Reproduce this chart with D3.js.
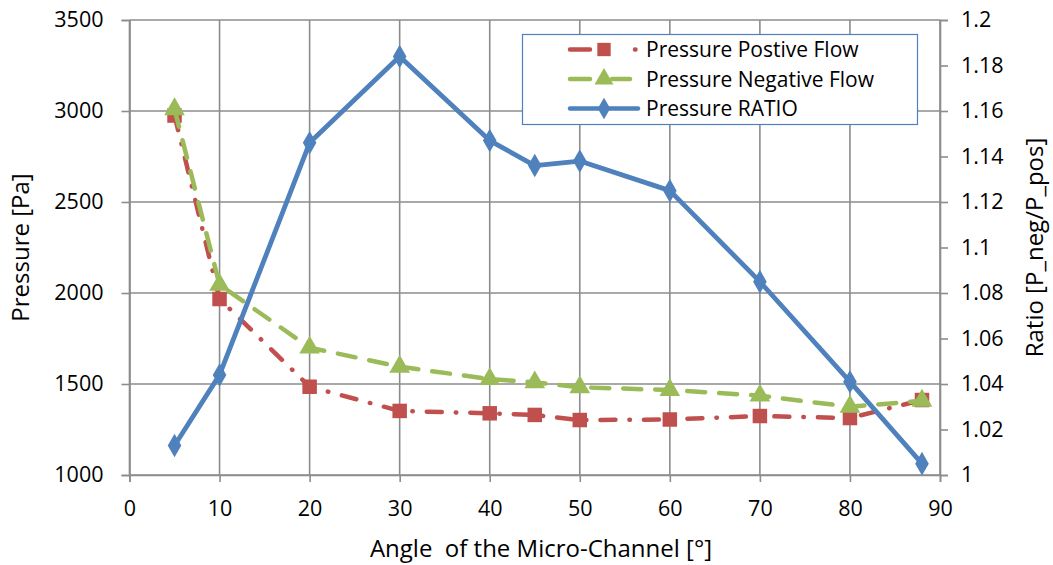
<!DOCTYPE html>
<html><head><meta charset="utf-8">
<script src="https://cdn.jsdelivr.net/npm/d3@7"></script>
<style>
html,body{margin:0;padding:0;background:#fff;}
svg text{font-family:"Open Sans","Noto Sans",sans-serif;fill:#000;}
</style></head>
<body><svg id="c" width="1053" height="565"></svg>
<script>
const angles = [5, 10, 20, 30, 40, 45, 50, 60, 70, 80, 88];
const pressurePositive = [2975, 1967, 1485, 1352, 1339, 1330, 1302, 1305, 1324, 1313, 1412];
const pressureNegative = [3010, 2045, 1700, 1595, 1527, 1509, 1482, 1467, 1436, 1375, 1408];
const pressureRatio = [1.013, 1.044, 1.146, 1.184, 1.147, 1.136, 1.138, 1.125, 1.085, 1.041, 1.005];
const xTicks = [0, 10, 20, 30, 40, 50, 60, 70, 80, 90];
const leftTicks = [1000, 1500, 2000, 2500, 3000, 3500];
const rightTicks = [1, 1.02, 1.04, 1.06, 1.08, 1.1, 1.12, 1.14, 1.16, 1.18, 1.2];
const seriesNames = ["Pressure Postive Flow", "Pressure Negative Flow", "Pressure RATIO"];

const svg = d3.select("#c");
const L = 129.5, R = 940, T = 20, B = 475;
const x = d3.scaleLinear().domain([0, 90]).range([L, R]);
const yL = d3.scaleLinear().domain([1000, 3500]).range([B, T]);
const yR = d3.scaleLinear().domain([1, 1.2]).range([B, T]);
const gridCol = "#8c8c8c";
const FS = 21.5, TFS = 24, LFS = 21;

// grid
const g = svg.append("g");
g.selectAll(".vg").data(xTicks).join("line")
  .attr("x1", d => x(d)).attr("x2", d => x(d)).attr("y1", T).attr("y2", B)
  .attr("stroke", gridCol).attr("stroke-width", 1.6);
g.selectAll(".hg").data(leftTicks).join("line")
  .attr("x1", L).attr("x2", R).attr("y1", d => yL(d)).attr("y2", d => yL(d))
  .attr("stroke", gridCol).attr("stroke-width", 1.6);

// axes
function styleAxis(sel) {
  sel.attr("font-family", null).attr("font-size", null);
  sel.select(".domain").attr("stroke", gridCol).attr("stroke-width", 1.6);
  sel.selectAll(".tick line").attr("stroke", gridCol).attr("stroke-width", 1.6);
  sel.selectAll(".tick text").attr("font-size", FS);
}
const ax = svg.append("g").attr("transform", `translate(0,${B})`)
  .call(d3.axisBottom(x).tickValues(xTicks).tickSize(7).tickPadding(19).tickFormat(d3.format("d")));
styleAxis(ax);
const al = svg.append("g").attr("transform", `translate(${L},0)`)
  .call(d3.axisLeft(yL).tickValues(leftTicks).tickSize(8).tickPadding(18).tickFormat(d3.format("d")));
styleAxis(al);
const ar = svg.append("g").attr("transform", `translate(${R},0)`)
  .call(d3.axisRight(yR).tickValues(rightTicks).tickSize(8).tickPadding(13).tickFormat(d => d3.format("")(+d.toFixed(2))));
styleAxis(ar);

// titles
svg.append("text").attr("x", 541).attr("y", 557).attr("text-anchor", "middle")
  .attr("font-size", TFS).style("white-space", "pre").text("Angle  of the Micro-Channel [°]");
svg.append("text").attr("transform", `translate(29,${(T + B) / 2}) rotate(-90)`).attr("text-anchor", "middle")
  .attr("font-size", TFS).text("Pressure [Pa]");
svg.append("text").attr("transform", `translate(1043,${(T + B) / 2}) rotate(-90)`).attr("text-anchor", "middle")
  .attr("font-size", TFS).text("Ratio [P_neg/P_pos]");

const colors = ["#C0504D", "#9BBB59", "#4F81BD"];
const dashes = ["15,14,0.5,14", "18,14", null];
const legendDashes = ["20,45,0.5,100", "20,22,18,100", null];

const data = [
  angles.map((a, i) => [a, pressurePositive[i]]),
  angles.map((a, i) => [a, pressureNegative[i]]),
  angles.map((a, i) => [a, pressureRatio[i]])
];
const scales = [yL, yL, yR];
const symbols = [d3.symbolSquare, d3.symbolTriangle, d3.symbolDiamond];
const symSizes = [210, 185, 160];

const plot = svg.append("g");
data.forEach((ser, k) => {
  const line = d3.line().x(d => x(d[0])).y(d => scales[k](d[1]));
  plot.append("path").datum(ser).attr("d", line).attr("fill", "none")
    .attr("stroke", colors[k]).attr("stroke-width", k === 2 ? 4.8 : 4.5)
    .attr("stroke-linecap", "round").attr("stroke-linejoin", "round")
    .attr("stroke-dasharray", dashes[k]);
  plot.selectAll(null).data(ser).join("path")
    .attr("transform", d => `translate(${x(d[0])},${scales[k](d[1])})`)
    .attr("d", d3.symbol(symbols[k], symSizes[k])).attr("fill", colors[k]);
});

// legend
const lg = svg.append("g");
lg.append("rect").attr("x", 522.5).attr("y", 34.5).attr("width", 395).attr("height", 90)
  .attr("fill", "#fff").attr("stroke", "#4F81BD").attr("stroke-width", 1.2);
seriesNames.forEach((n, k) => {
  const yy = 49.5 + k * 29.5;
  lg.append("line").attr("x1", 570).attr("x2", 638).attr("y1", yy).attr("y2", yy)
    .attr("stroke", colors[k]).attr("stroke-width", 4.5).attr("stroke-linecap", "round")
    .attr("stroke-dasharray", legendDashes[k]);
  lg.append("path").attr("transform", `translate(604,${yy})`)
    .attr("d", d3.symbol(symbols[k], symSizes[k] * 0.85)).attr("fill", colors[k]);
  lg.append("text").attr("x", 646).attr("y", yy + 7.5).attr("font-size", LFS).text(n);
});
</script></body></html>
